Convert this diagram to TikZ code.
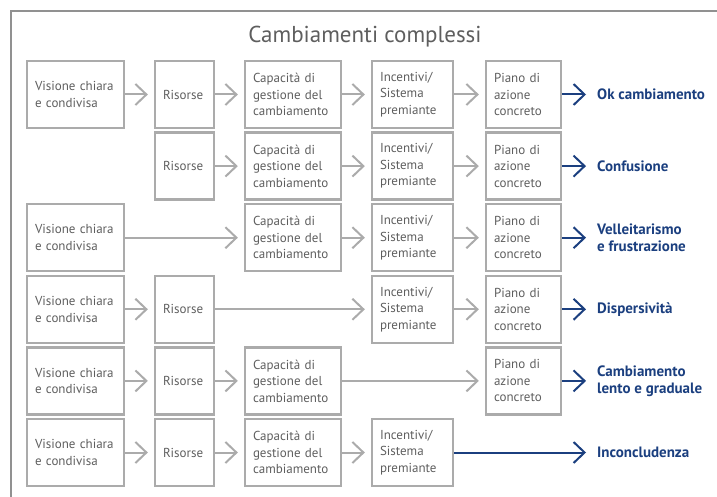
\documentclass[tikz,border=0pt]{standalone}
\usepackage{fontspec}
\setmainfont{PT Sans}
\usetikzlibrary{arrows.meta}
\definecolor{boxgray}{HTML}{ABABAB}
\definecolor{txtgray}{HTML}{5E5E5E}
\definecolor{darkblue}{HTML}{1B3F7F}
\begin{document}
\begin{tikzpicture}[x=1pt,y=-1pt,
  stepbox/.style={draw=boxgray, line width=2.3pt, rectangle, minimum height=67pt,
    inner sep=0pt, text=txtgray, font=\fontsize{13}{16.5}\selectfont, align=left},
  colA/.style={stepbox, minimum width=97pt, text width=81pt},
  colB/.style={stepbox, minimum width=59pt, text width=43pt},
  colC/.style={stepbox, minimum width=96pt, text width=80pt},
  colD/.style={stepbox, minimum width=81pt, text width=65pt},
  colE/.style={stepbox, minimum width=75pt, text width=59pt},
  tip/.style={-{Straight Barb[length=11pt,width=21pt,line width=2pt]}},
  ga/.style={draw=boxgray, line width=2pt, tip, shorten >=6pt},
  ba/.style={draw=darkblue, line width=2pt, tip},
  res/.style={anchor=west, text=darkblue, font=\fontsize{15}{17}\selectfont\bfseries, align=left, inner sep=0pt},
  frame/.style={draw=boxgray!85!black, line width=1.3pt}]
\useasboundingbox (0,0) rectangle (717,497);
\draw[frame] (11,497) -- (11,11) -- (717,11);
\node[text=txtgray, font=\fontsize{23}{26}\selectfont] (title) at (365,37) {Cambiamenti complessi};
\newcommand{\boxA}[2]{\node[colA] (#1) at (75.5,#2) {Visione chiara\\e condivisa};}
\newcommand{\boxB}[2]{\node[colB] (#1) at (184.5,#2) {Risorse};}
\newcommand{\boxC}[2]{\node[colC] (#1) at (293,#2) {Capacità di\\gestione del\\cambiamento};}
\newcommand{\boxD}[2]{\node[colD] (#1) at (412.5,#2) {Incentivi/\\Sistema\\premiante};}
\newcommand{\boxE}[2]{\node[colE] (#1) at (523.5,#2) {Piano di\\azione\\concreto};}
% row 1
\boxA{a1}{94.5}\boxB{b1}{94.5}\boxC{c1}{94.5}\boxD{d1}{94.5}\boxE{e1}{94.5}
\coordinate (t1) at (586,94.5);
\node[res] (r1) at (597,94.5) {Ok cambiamento};
\draw[ga] (a1) -- (b1); \draw[ga] (b1) -- (c1); \draw[ga] (c1) -- (d1); \draw[ga] (d1) -- (e1);
\draw[ba] (e1) -- (t1);
% row 2
\boxB{b2}{166.1}\boxC{c2}{166.1}\boxD{d2}{166.1}\boxE{e2}{166.1}
\coordinate (t2) at (586,166.1);
\node[res] (r2) at (597,166.1) {Confusione};
\draw[ga] (b2) -- (c2); \draw[ga] (c2) -- (d2); \draw[ga] (d2) -- (e2);
\draw[ba] (e2) -- (t2);
% row 3
\boxA{a3}{237.7}\boxC{c3}{237.7}\boxD{d3}{237.7}\boxE{e3}{237.7}
\coordinate (t3) at (586,237.7);
\node[res] (r3) at (597,237.7) {Velleitarismo\\e frustrazione};
\draw[ga] (a3) -- (c3); \draw[ga] (c3) -- (d3); \draw[ga] (d3) -- (e3);
\draw[ba] (e3) -- (t3);
% row 4
\boxA{a4}{309.3}\boxB{b4}{309.3}\boxD{d4}{309.3}\boxE{e4}{309.3}
\coordinate (t4) at (586,309.3);
\node[res] (r4) at (597,309.3) {Dispersività};
\draw[ga] (a4) -- (b4); \draw[ga] (b4) -- (d4); \draw[ga] (d4) -- (e4);
\draw[ba] (e4) -- (t4);
% row 5
\boxA{a5}{380.9}\boxB{b5}{380.9}\boxC{c5}{380.9}\boxE{e5}{380.9}
\coordinate (t5) at (586,380.9);
\node[res] (r5) at (597,380.9) {Cambiamento\\lento e graduale};
\draw[ga] (a5) -- (b5); \draw[ga] (b5) -- (c5); \draw[ga] (c5) -- (e5);
\draw[ba] (e5) -- (t5);
% row 6
\boxA{a6}{452.5}\boxB{b6}{452.5}\boxC{c6}{452.5}\boxD{d6}{452.5}
\coordinate (t6) at (586,452.5);
\node[res] (r6) at (597,452.5) {Inconcludenza};
\draw[ga] (a6) -- (b6); \draw[ga] (b6) -- (c6); \draw[ga] (c6) -- (d6);
\draw[ba] (d6) -- (t6);
\end{tikzpicture}
\end{document}
